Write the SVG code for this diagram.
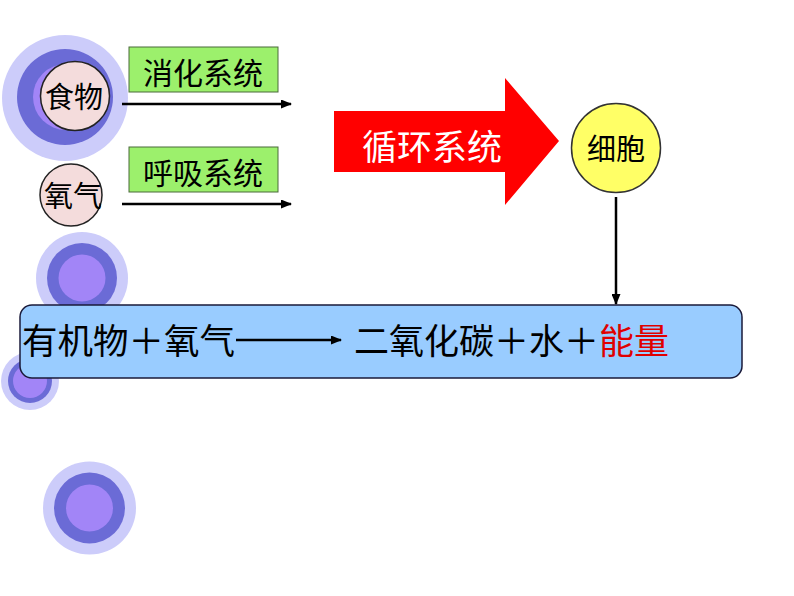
<svg xmlns="http://www.w3.org/2000/svg" width="794" height="596" viewBox="0 0 794 596">
<defs>
<style>
.outer{fill:#ccccfa}
.ring{fill:#6b6bd6}
.inner{fill:#a285f7}
.pink{fill:#f4dcdc;stroke:#222;stroke-width:1.5}
.green{fill:#9cf06c;stroke:#4a6a3a;stroke-width:1}
.t{font-family:"Noto Sans CJK SC","Noto Sans",sans-serif;fill:#000}
.line{stroke:#000;stroke-width:2.5;fill:none}
</style>
<marker id="ah" markerWidth="11" markerHeight="9" refX="10" refY="4.5" orient="auto" markerUnits="userSpaceOnUse">
<path d="M0,0 L11,4.5 L0,9 Z" fill="#000"/>
</marker>
</defs>
<g id="bullet1">
<circle class="outer" cx="65" cy="98" r="63"/>
<circle class="ring" cx="65" cy="97" r="48"/>
<circle class="inner" cx="66" cy="97" r="33"/>
</g>
<g id="bullet2">
<circle class="outer" cx="82" cy="278" r="46"/>
<circle class="ring" cx="82" cy="278" r="35"/>
<circle class="inner" cx="82" cy="278" r="23.5"/>
</g>
<g id="bullet3">
<circle class="outer" cx="30" cy="381" r="29"/>
<circle class="ring" cx="30" cy="381" r="22"/>
<circle class="inner" cx="30" cy="381" r="17"/>
</g>
<g id="bullet4">
<circle class="outer" cx="89.5" cy="508" r="46.5"/>
<circle class="ring" cx="89.5" cy="508" r="35.5"/>
<circle class="inner" cx="89.5" cy="508" r="23.5"/>
</g>
<g id="food">
<circle class="pink" cx="75" cy="96" r="34.5"/>
<text class="t" x="74" y="108" font-size="29" text-anchor="middle">食物</text>
</g>
<g id="oxygen">
<circle class="pink" cx="71" cy="195" r="31"/>
<text class="t" x="73" y="207" font-size="29" text-anchor="middle">氧气</text>
</g>
<g id="digest">
<rect class="green" x="129" y="47" width="149" height="45"/>
<text class="t" x="203" y="84" font-size="30" text-anchor="middle">消化系统</text>
</g>
<g id="breath">
<rect class="green" x="129" y="147" width="149" height="45"/>
<text class="t" x="203" y="184" font-size="30" text-anchor="middle">呼吸系统</text>
</g>
<g id="circulation">
<path d="M334,111 L505,111 L505,78 L559,141 L505,205 L505,172 L334,172 Z" fill="#ff0000"/>
<text x="432" y="160" font-size="35" text-anchor="middle" font-family="Noto Sans CJK SC,sans-serif" fill="#fff">循环系统</text>
</g>
<g id="cell">
<circle cx="616" cy="148" r="44.5" fill="#ffff66" stroke="#333" stroke-width="1.5"/>
<text class="t" x="616" y="160" font-size="29" text-anchor="middle">细胞</text>
</g>
<g id="equation">
<rect x="20" y="305" width="722" height="73" rx="12" ry="12" fill="#99ccff" stroke="#1a1a3a" stroke-width="1.5"/>
<text class="t" x="22" y="354" font-size="35.5">有机物＋氧气</text>
<text class="t" x="354" y="354" font-size="35">二氧化碳＋水＋<tspan fill="#e00000">能量</tspan></text>
</g>
<g id="connectors">
<line class="line" x1="122" y1="104" x2="291" y2="104" marker-end="url(#ah)"/>
<line class="line" x1="122" y1="204" x2="291" y2="204" marker-end="url(#ah)"/>
<line class="line" x1="616" y1="197" x2="616" y2="304" marker-end="url(#ah)"/>
<line class="line" x1="236" y1="340" x2="341" y2="340" marker-end="url(#ah)"/>
</g>
</svg>
